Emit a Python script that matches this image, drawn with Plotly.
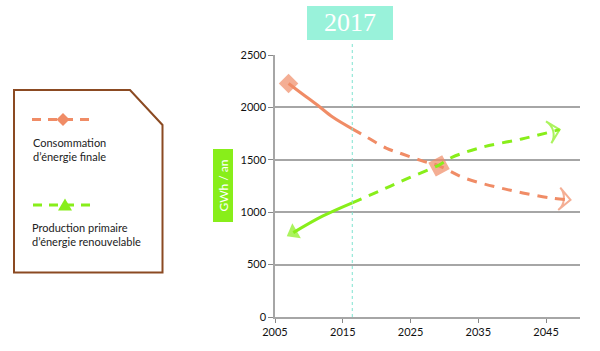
import plotly.graph_objects as go

# ---- data ----
cons_solid_years = [2007, 2009, 2011.3, 2013.5, 2016.4]
cons_solid_vals = [2228, 2130, 2020, 1908, 1795]
cons_dash_years = [2016.4, 2018, 2021.4, 2023.8, 2026.7, 2029.2, 2033, 2039, 2045.7, 2048.6]
cons_dash_vals = [1795, 1737, 1612, 1555, 1490, 1442, 1325, 1220, 1135, 1118]

prod_solid_years = [2016.4, 2012, 2007.7]
prod_solid_vals = [1090, 962, 805]
prod_dash_years = [2016.4, 2020.5, 2024.5, 2029.2, 2031.1, 2035.5, 2041.4, 2047]
prod_dash_vals = [1090, 1205, 1320, 1450, 1523, 1619, 1699, 1788]

x_ticks = [2005, 2015, 2025, 2035, 2045]
y_ticks = [0, 500, 1000, 1500, 2000, 2500]
marker_year = 2016.4
marker_label = "2017"
legend_labels = ["Consommation<br>d’énergie finale", "Production primaire<br>d’énergie renouvelable"]
y_title = "GWh / an"

ORANGE = "#F08C66"
GREEN = "#88EE1A"
TEAL = "#99F2DA"
BROWN = "#8B4A22"
FONT = "Lato"

W, H = 600, 351
L, R, T, B = 275, 580, 55, 317


def px(x):
    return (x - L) / (R - L)


def py(y):
    return (B - y) / (B - T)


fig = go.Figure()

# consumption solid
n = len(cons_solid_years)
fig.add_trace(go.Scatter(
    x=cons_solid_years, y=cons_solid_vals, mode="lines+markers",
    line=dict(color=ORANGE, width=3, shape="spline"),
    marker=dict(symbol="diamond", size=[15] + [0] * (n - 1), color=ORANGE,
                line=dict(width=0)),
    showlegend=False, hoverinfo="skip"))
# consumption dashed
n = len(cons_dash_years)
sizes = [0] * n
syms = ["circle"] * n
sizes[5] = 15
syms[5] = "diamond"
sizes[-1] = 16
syms[-1] = "arrow-wide-open"
fig.add_trace(go.Scatter(
    x=cons_dash_years, y=cons_dash_vals, mode="lines+markers",
    line=dict(color=ORANGE, width=3, dash="10px,8px", shape="spline"),
    marker=dict(symbol=syms, size=sizes, color=ORANGE, angleref="previous",
                line=dict(width=2, color=ORANGE)),
    showlegend=False, hoverinfo="skip"))

# production solid (drawn from 2016 backwards so arrowhead points down-left)
n = len(prod_solid_years)
fig.add_trace(go.Scatter(
    x=prod_solid_years, y=prod_solid_vals, mode="lines+markers",
    line=dict(color=GREEN, width=3, shape="spline"),
    marker=dict(symbol="triangle-up", size=[0] * (n - 1) + [15], color=GREEN,
                angleref="previous", line=dict(width=0)),
    showlegend=False, hoverinfo="skip"))
n = len(prod_dash_years)
fig.add_trace(go.Scatter(
    x=prod_dash_years, y=prod_dash_vals, mode="lines+markers",
    line=dict(color=GREEN, width=3, dash="10px,8px", shape="spline"),
    marker=dict(symbol=["circle"] * (n - 1) + ["arrow-wide-open"],
                size=[0] * (n - 1) + [16], color=GREEN, angleref="previous",
                line=dict(width=2, color=GREEN)),
    showlegend=False, hoverinfo="skip"))

shapes = []
annotations = []

# vertical dotted 2017 line
shapes.append(dict(type="line", xref="x", yref="paper", x0=marker_year, x1=marker_year,
                   y0=0, y1=py(41), line=dict(color="#7FE3D0", width=1, dash="dot"), layer="above"))
# 2017 label box
shapes.append(dict(type="rect", xref="paper", yref="paper", x0=px(307), x1=px(393),
                   y0=py(40), y1=py(6), fillcolor=TEAL, line=dict(width=0)))
annotations.append(dict(xref="paper", yref="paper", x=px(350), y=py(22.5), text=marker_label,
                        showarrow=False, font=dict(family="Liberation Serif", size=26, color="white"),
                        xanchor="center", yanchor="middle"))

# y title box
shapes.append(dict(type="rect", xref="paper", yref="paper", x0=px(213), x1=px(233),
                   y0=py(222), y1=py(149), fillcolor=GREEN, line=dict(width=0)))
annotations.append(dict(xref="paper", yref="paper", x=px(223), y=py(185.5), text=y_title,
                        showarrow=False, textangle=-90,
                        font=dict(family=FONT, size=12, color="white"),
                        xanchor="center", yanchor="middle"))

# legend box with cut corner
path = "M {x0},{y0} L {x1},{y0} L {x2},{y1} L {x2},{y2} L {x0},{y2} Z".format(
    x0=px(14), x1=px(130), x2=px(162.5), y0=py(90), y1=py(125), y2=py(272.5))
shapes.append(dict(type="path", xref="paper", yref="paper", path=path,
                   line=dict(color=BROWN, width=2), fillcolor="white"))

# legend sample: consumption
shapes.append(dict(type="line", xref="paper", yref="paper", x0=px(32), x1=px(93),
                   y0=py(119.5), y1=py(119.5), line=dict(color=ORANGE, width=3, dash="9px,7px")))
dpath = "M {a},{m} L {c},{t} L {b},{m} L {c},{u} Z".format(
    a=px(56.5), b=px(69.5), c=px(63), m=py(119.5), t=py(113), u=py(126))
shapes.append(dict(type="path", xref="paper", yref="paper", path=dpath,
                   fillcolor=ORANGE, line=dict(width=0)))
annotations.append(dict(xref="paper", yref="paper", x=px(31), y=py(149), text=legend_labels[0],
                        showarrow=False, align="left", xanchor="left", yanchor="middle",
                        font=dict(family=FONT, size=11, color="#222")))

# legend sample: production
shapes.append(dict(type="line", xref="paper", yref="paper", x0=px(33), x1=px(94),
                   y0=py(205), y1=py(205), line=dict(color=GREEN, width=3, dash="9px,7px")))
tpath = "M {a},{b} L {c},{b} L {m},{t} Z".format(
    a=px(58), c=px(72), m=px(65), b=py(210.5), t=py(198.5))
shapes.append(dict(type="path", xref="paper", yref="paper", path=tpath,
                   fillcolor=GREEN, line=dict(width=0)))
annotations.append(dict(xref="paper", yref="paper", x=px(30), y=py(234), text=legend_labels[1],
                        showarrow=False, align="left", xanchor="left", yanchor="middle",
                        font=dict(family=FONT, size=11, color="#222")))

fig.update_layout(
    width=W, height=H,
    margin=dict(l=L, r=W - R, t=T, b=H - B),
    paper_bgcolor="white", plot_bgcolor="white",
    shapes=shapes, annotations=annotations,
    font=dict(family=FONT, size=11, color="#111"),
    xaxis=dict(range=[2005, 2050], tickvals=x_ticks, ticktext=[str(v) for v in x_ticks],
               showgrid=False, zeroline=False, showline=True, linecolor="#A6A6A6", linewidth=1.5,
               ticks="outside", ticklen=4, tickcolor="#888", tickwidth=1,
               tickfont=dict(family=FONT, size=11, color="#111"), fixedrange=True),
    yaxis=dict(range=[0, 2500], tickvals=y_ticks, showgrid=True, gridcolor="#A6A6A6", gridwidth=1.5,
               zeroline=False, showline=True, linecolor="#A6A6A6", linewidth=1.5,
               ticks="outside", ticklen=5, tickcolor="#888", tickwidth=1,
               tickfont=dict(family=FONT, size=11, color="#111"), fixedrange=True),
)

fig.write_html("out.html")
